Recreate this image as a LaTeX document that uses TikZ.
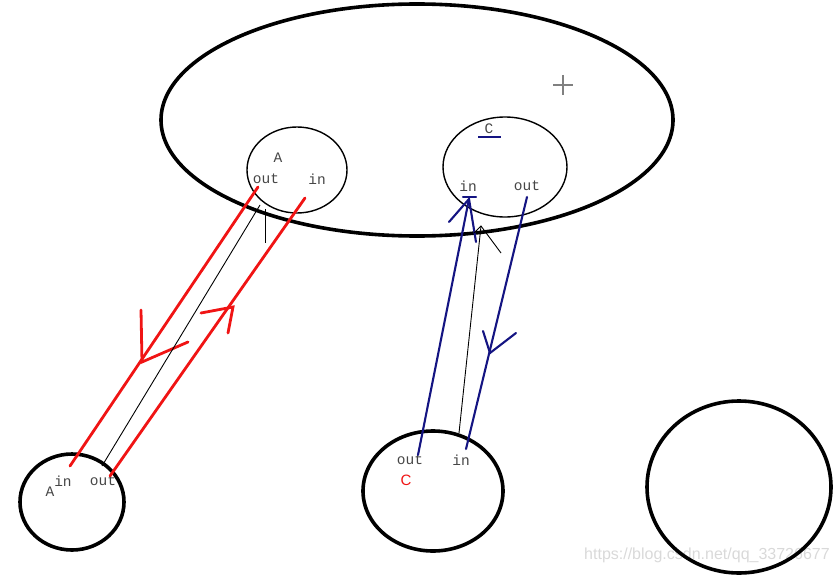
\documentclass[tikz,border=0pt]{standalone}
\usepackage{fontspec}
\newfontfamily\labelfont{Liberation Mono}
\newfontfamily\markfont{Liberation Sans}
\usetikzlibrary{calc, positioning}
\definecolor{penred}{RGB}{240,20,20}
\definecolor{penblue}{RGB}{20,20,130}
\definecolor{labelgray}{RGB}{70,70,70}
\tikzset{
  heavy/.style={line width=3.6pt},
  thin ring/.style={line width=1.4pt},
  red pen/.style={penred, line width=2.8pt, line cap=round},
  blue pen/.style={penblue, line width=2.1pt, line cap=round},
  black pen/.style={black, line width=0.9pt},
  port/.style={font=\labelfont\fontsize{14.5}{14.5}\selectfont, text=labelgray, inner sep=0pt}
}
\begin{document}
\begin{tikzpicture}[x=1pt, y=-1pt]
\useasboundingbox (0,0) rectangle (837,575);

% watermark
\node[font=\markfont\fontsize{16}{16}\selectfont, text=black!15, anchor=west, inner sep=0pt] (mark) at (584,555) {https://blog.csdn.net/qq\_33726677};

% outer region and the machines
\draw[heavy] (417,120) ellipse [x radius=256, y radius=116];
\draw[thin ring] (297,170) ellipse [x radius=50, y radius=43];
\draw[thin ring] (505,167) ellipse [x radius=62, y radius=50];
\draw[heavy] (72,502) ellipse [x radius=52, y radius=48];
\draw[heavy] (433,491) ellipse [x radius=70, y radius=60];
\draw[heavy] (739,487) ellipse [x radius=92, y radius=86];

% labels
\node[port] (topA) at (278,158) {A};
\node[port] (topAout) at (266,179) {out};
\node[port] (topAin) at (317,179) {in};
\node[port] (topC) at (489,129) {C};
\draw[penblue, line width=1.6pt] (478,137) -- (501,137);
\node[port] (topCin) at (468,186) {in};
\node[port] (topCout) at (527,186) {out};
\node[port] (botA) at (50,492) {A};
\node[port] (botAin) at (63,481) {in};
\node[port] (botAout) at (103,481) {out};
\node[port] (botCout) at (410,460) {out};
\node[port] (botCin) at (461,460) {in};
\node[port, text=penred, font=\markfont\fontsize{15}{15}\selectfont] (botC) at (406,480) {C};

% red pair
\coordinate (r1s) at (258,187);
\coordinate (r1e) at (70,466);
\coordinate (r2s) at (110,476);
\coordinate (r2e) at (305,198);
\draw[red pen] (r1s) -- (r1e);
\draw[red pen] (r2s) -- (r2e);
\draw[red pen] (141,310) -- (142,362) -- (188,342);
\draw[red pen] (201,313) -- (233,307) -- (228,333);

% black link on the left
\coordinate (k1s) at (102,466);
\coordinate (k1e) at (260,205);
\draw[black pen] (k1s) -- (k1e);
\draw[black pen] (265,209) -- (265,243);

% blue pair
\coordinate (b1s) at (418,455);
\coordinate (b1e) at (469,199);
\coordinate (b2s) at (527,197);
\coordinate (b2e) at (466,449);
\draw[blue pen] (b1s) -- (b1e);
\draw[blue pen] (463,197) -- (476,197);
\draw[blue pen] (449,222) -- (b1e) -- (476,242);
\draw[blue pen] (b2s) -- (b2e);
\draw[blue pen] (483,331) -- (490,353) -- (516,333);

% black link on the right
\coordinate (k2s) at (459,433);
\coordinate (k2e) at (481,226);
\draw[black pen] (k2s) -- (k2e);
\draw[black pen] (474,233) -- (k2e) -- (501,253);

% cursor cross
\draw[gray, line width=1.3pt] (553,85) -- (573,85) (563,75) -- (563,95);
\end{tikzpicture}
\end{document}
